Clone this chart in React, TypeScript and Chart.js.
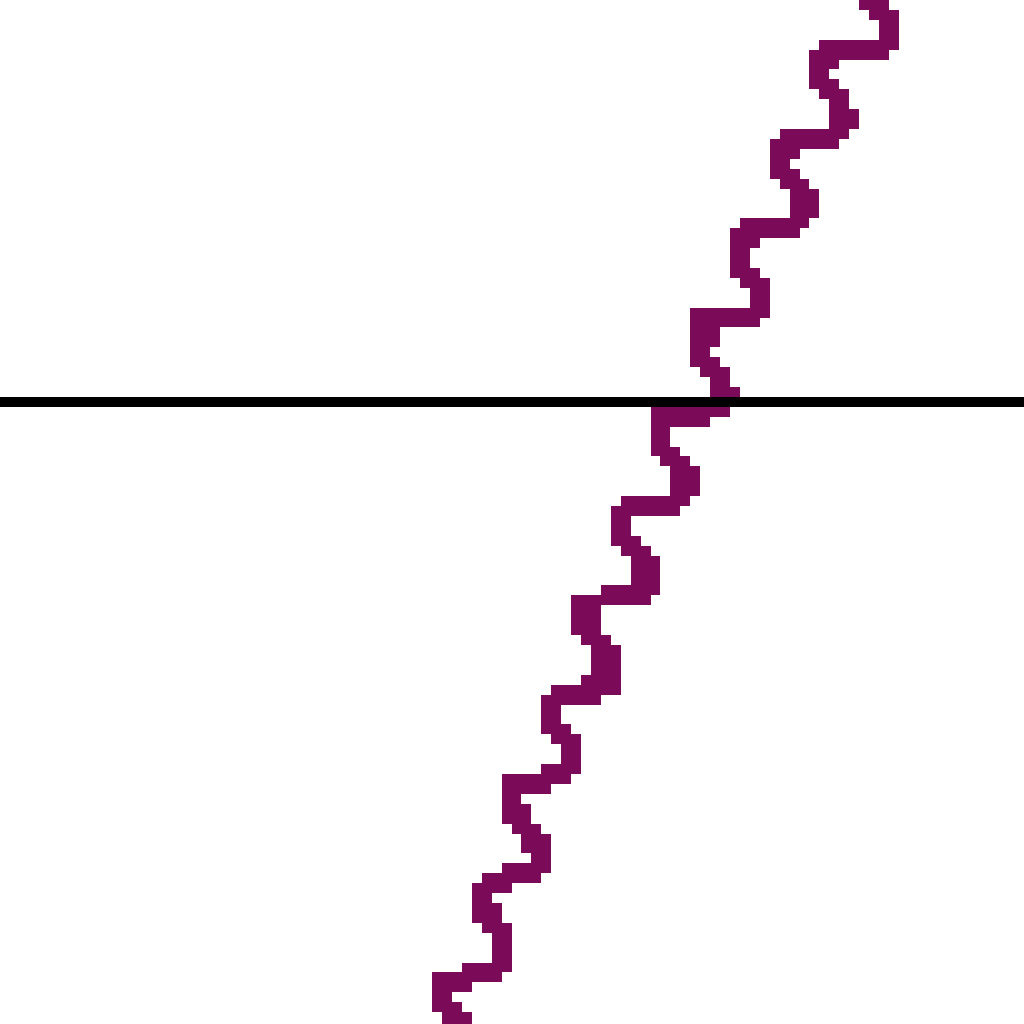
import { useEffect, useRef } from "react";
import { Chart, registerables } from "chart.js";

Chart.register(...registerables);

// Value grid of the chart (both axes run 0..104 units)
const AXIS_MIN = 0;
const AXIS_MAX = 104;

// Wavy purple series (top to bottom)
const waveX = [
  86.4, 87.4, 88.4, 89.5, 90.0, 90.0, 89.2, 87.5, 85.0, 83.6,
  83.0, 83.0, 83.6, 84.6, 85.2, 85.5, 85.4, 84.6, 83.0, 80.5,
  79.5, 79.0, 79.0, 79.5, 80.4, 81.0, 81.5, 81.5, 80.8, 79.0,
  76.5, 75.3, 75.0, 75.0, 75.4, 76.3, 76.9, 77.0, 76.4, 74.5,
  71.8, 71.0, 71.0, 71.2, 71.6, 72.5, 73.1, 73.5, 73.3, 72.0,
  69.0, 67.3, 67.0, 67.0, 67.6, 68.8, 69.4, 69.8, 69.5, 68.4,
  66.0, 63.6, 63.0, 63.0, 63.5, 64.5, 65.1, 65.6, 65.9, 65.3,
  64.8, 62.0, 59.8, 59.0, 59.2, 60.0, 60.6, 61.3, 61.9, 61.9,
  61.5, 59.5, 57.0, 56.1, 56.0, 56.5, 57.0, 57.5, 58.0, 58.0,
  57.5, 55.5, 52.5, 51.8, 51.8, 52.0, 52.8, 53.5, 54.0, 54.6,
  55.0, 54.5, 52.5, 50.0, 48.8, 48.9, 49.0, 49.6, 50.4, 50.8,
  51.0, 51.0, 50.0, 47.5, 45.5, 44.8, 44.9, 45.4, 46.2, 46.8,
  47.1, 47.3,
];
const waveY = [
  -3.0, -1.2, 0.4, 1.6, 2.6, 3.6, 4.6, 5.0, 5.0, 5.5,
  6.6, 7.6, 8.6, 9.6, 10.6, 11.6, 12.6, 13.6, 14.0, 14.0,
  14.5, 15.6, 16.6, 17.6, 18.6, 19.6, 20.6, 21.6, 22.6, 23.0,
  23.3, 23.9, 25.0, 26.2, 27.3, 28.4, 29.5, 30.5, 31.5, 31.9,
  32.0, 32.8, 34.0, 35.5, 36.6, 37.6, 38.6, 39.6, 40.6, 41.4,
  41.7, 42.0, 42.9, 44.0, 45.3, 46.5, 47.5, 48.4, 49.6, 50.6,
  51.0, 51.3, 52.2, 53.4, 54.5, 55.5, 56.5, 57.5, 58.5, 59.3,
  59.6, 60.2, 60.8, 61.6, 62.6, 63.6, 64.6, 65.6, 66.6, 67.6,
  69.0, 69.6, 70.0, 70.7, 71.8, 72.8, 73.8, 74.8, 75.8, 76.8,
  77.8, 78.6, 79.0, 79.7, 80.6, 81.6, 82.6, 83.6, 84.6, 85.6,
  86.6, 87.5, 88.3, 88.9, 89.6, 90.6, 91.6, 92.6, 93.6, 94.6,
  95.6, 96.6, 97.6, 98.4, 98.9, 99.7, 100.6, 101.6, 102.6, 103.6,
  104.6, 106.0,
];

// Black horizontal reference line
const baselineX = [-2, 106];
const baselineY = [40.5, 40.5];

const PURPLE: [number, number, number] = [123, 10, 89];

// Render crisp, un-antialiased pixels (like the low-resolution reference)
const pixelSnap = {
  id: "pixelSnap",
  afterDraw(chart: any) {
    const ctx = chart.ctx as CanvasRenderingContext2D;
    const w = chart.canvas.width;
    const h = chart.canvas.height;
    const img = ctx.getImageData(0, 0, w, h);
    const d = img.data;
    for (let i = 0; i < d.length; i += 4) {
      if (d[i + 3] < 128) {
        d[i] = d[i + 1] = d[i + 2] = d[i + 3] = 0;
        continue;
      }
      const s = d[i] + d[i + 1] + d[i + 2];
      if (s < 110) {
        d[i] = 0; d[i + 1] = 0; d[i + 2] = 0;
      } else {
        d[i] = PURPLE[0]; d[i + 1] = PURPLE[1]; d[i + 2] = PURPLE[2];
      }
      d[i + 3] = 255;
    }
    ctx.putImageData(img, 0, 0);
  },
};

const CELL = 9.93;
const SRC = 104;

export default function App() {
  const ref = useRef<HTMLCanvasElement>(null);

  useEffect(() => {
    if (!ref.current) return;
    const chart = new Chart(ref.current, {
      type: "scatter",
      data: {
        datasets: [
          {
            label: "baseline",
            data: baselineX.map((x, i) => ({ x, y: baselineY[i] })),
            showLine: true,
            borderColor: "#000000",
            borderWidth: 1,
            borderCapStyle: "butt",
            pointRadius: 0,
          },
          {
            label: "wave",
            data: waveX.map((x, i) => ({ x, y: waveY[i] })),
            showLine: true,
            borderColor: `rgb(${PURPLE.join(",")})`,
            borderWidth: 2.2,
            borderCapStyle: "round",
            borderJoinStyle: "round",
            tension: 0,
            pointRadius: 0,
          },
        ],
      },
      options: {
        responsive: false,
        animation: false,
        devicePixelRatio: 1,
        events: [],
        layout: { padding: 0 },
        plugins: { legend: { display: false }, tooltip: { enabled: false } },
        scales: {
          x: { type: "linear", min: AXIS_MIN, max: AXIS_MAX, display: false },
          y: { type: "linear", min: AXIS_MIN, max: AXIS_MAX, reverse: true, display: false },
        },
      },
      plugins: [pixelSnap],
    });
    return () => chart.destroy();
  }, []);

  return (
    <div
      style={{
        position: "fixed",
        left: 0,
        top: 0,
        width: 1024,
        height: 1024,
        overflow: "hidden",
        background: "#ffffff",
      }}
    >
      <canvas
        ref={ref}
        width={SRC}
        height={SRC}
        style={{
          position: "absolute",
          left: "-5.1px",
          top: "-0.4px",
          width: `${SRC * CELL}px`,
          height: `${SRC * CELL}px`,
          imageRendering: "pixelated",
        }}
      />
    </div>
  );
}
